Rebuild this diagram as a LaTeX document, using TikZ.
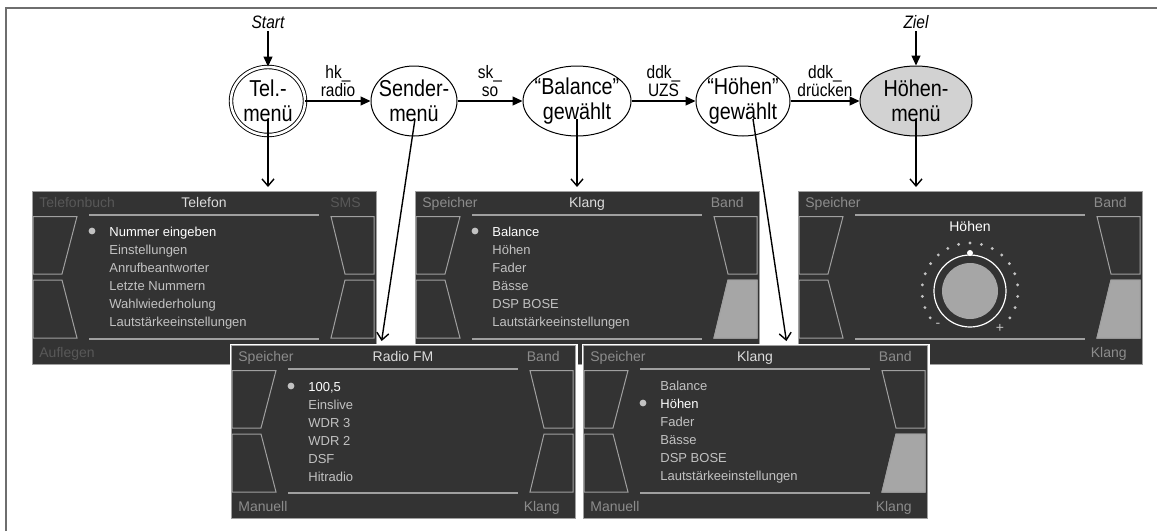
\documentclass[tikz,border=0pt]{standalone}
\usepackage{fontspec}
\setmainfont{Liberation Sans}
\newfontfamily\narrowsf[FakeStretch=0.86]{Liberation Sans}
\usetikzlibrary{shapes.geometric,arrows.meta,calc}

\definecolor{scrbg}{HTML}{333333}
\definecolor{scrline}{HTML}{A0A0A0}
\definecolor{keyon}{HTML}{A6A6A6}
\definecolor{titlegray}{HTML}{DCDCDC}
\definecolor{sidegray}{HTML}{8C8C8C}
\definecolor{dimgray}{HTML}{585858}
\definecolor{itemgray}{HTML}{C2C2C2}
\definecolor{goalfill}{HTML}{D2D2D2}
\definecolor{framegray}{HTML}{6E6E6E}

% one display screen: name, x, y (pixels), content
\newcommand\dispframe[4]{%
  \begin{scope}[shift={(#2,#3)}]
    \node[screen] (#1) at (0,0) {};
    \draw[softkey] (1,25.5) -- (45,25.5) -- (30,83) -- (1,83) -- cycle;
    \draw[softkey] (1,89) -- (30,89) -- (45,147) -- (1,147) -- cycle;
    \draw[softkey] (299,25.5) -- (342,25.5) -- (342,83) -- (313,83) -- cycle;
    \draw[softkey] (313,89) -- (342,89) -- (342,147) -- (299,147) -- cycle;
    \draw[sepline] (57,24) -- (287,24);
    \draw[sepline] (57,148) -- (287,148);
    #4
  \end{scope}}

\begin{document}
\begin{tikzpicture}[x=0.5pt, y=-0.5pt,
  state/.style={ellipse, draw, line width=0.5pt, inner sep=0pt, minimum height=35pt},
  stlabel/.style={align=center, font=\narrowsf\fontsize{11.5}{12.5}\selectfont, inner sep=0pt},
  trans/.style={-{Triangle[length=5pt,width=4.5pt]}, line width=0.6pt},
  todisp/.style={-{Straight Barb[length=3.5pt,width=6pt]}, line width=0.7pt, shorten >=2pt},
  edgelbl/.style={align=center, font=\narrowsf\fontsize{9}{9}\selectfont, inner sep=2pt},
  ext/.style={font=\narrowsf\fontsize{9}{9}\selectfont\itshape, inner sep=1pt},
  screen/.style={rectangle, anchor=north west, fill=scrbg, draw=scrline, line width=0.5pt,
    minimum width=172pt, minimum height=86.5pt, inner sep=0pt,
    preaction={draw=white, line width=2pt}},
  softkey/.style={draw=scrline, line width=0.5pt},
  sepline/.style={draw=scrline, line width=0.6pt},
  scrtitle/.style={anchor=base, inner sep=0pt, font=\fontsize{7}{8}\selectfont, text=titlegray},
  scrside/.style={inner sep=0pt, font=\fontsize{7}{8}\selectfont, text=sidegray},
  scrdim/.style={inner sep=0pt, font=\fontsize{7}{8}\selectfont, text=dimgray},
  scritem/.style={anchor=base west, inner sep=0pt, font=\fontsize{6.5}{8}\selectfont, text=itemgray},
  bullet/.style={fill=itemgray},
]
\useasboundingbox (0,0) rectangle (1157,531);
\draw[framegray, line width=0.75pt] (6,531) -- (6,8) -- (1157,8);

% === displays, upper row ===
\dispframe{s-tel}{32}{191}{%
  \node[scrdim, anchor=base west] (tel-l1) at (7,16) {Telefonbuch};
  \node[scrtitle] (tel-l2) at (172,16) {Telefon};
  \node[scrdim, anchor=base east] (tel-l3) at (329,16) {SMS};
  \node[scrdim, anchor=base west] (tel-l4) at (7,166) {Auflegen};
  \fill[bullet] (60,40) circle (1.7pt);
  \node[scritem, text=white] (tel-i0) at (77,45) {Nummer eingeben};
  \foreach \txt [count=\i] in {Einstellungen,Anrufbeantworter,Letzte Nummern,Wahlwiederholung,Lautstärkeeinstellungen}
    \node[scritem] (tel-i\i) at (77,{45+18*\i}) {\txt};
}

\dispframe{s-klang1}{415}{191}{%
  \filldraw[softkey, fill=keyon] (313,89) -- (342,89) -- (342,147) -- (299,147) -- cycle;
  \node[scrside, anchor=base west] (k1-l1) at (7,16) {Speicher};
  \node[scrtitle] (k1-l2) at (172,16) {Klang};
  \node[scrside, anchor=base east] (k1-l3) at (329,16) {Band};
  \fill[bullet] (60,40) circle (1.7pt);
  \node[scritem, text=white] (k1-i0) at (77,45) {Balance};
  \foreach \txt [count=\i] in {Höhen,Fader,Bässe,DSP BOSE,Lautstärkeeinstellungen}
    \node[scritem] (k1-i\i) at (77,{45+18*\i}) {\txt};
}

\dispframe{s-hoehen}{798}{191}{%
  \filldraw[softkey, fill=keyon] (313,89) -- (342,89) -- (342,147) -- (299,147) -- cycle;
  \node[scrside, anchor=base west] (hm-l1) at (7,16) {Speicher};
  \node[scrside, anchor=base east] (hm-l3) at (329,16) {Band};
  \node[scrside, anchor=base east] (hm-l4) at (329,166) {Klang};
  \node[scrtitle, text=white] (hm-t) at (172,40) {Höhen};
  \foreach \a in {0,...,18}
    \fill[itemgray] ({172+48*cos(214-13.78*\a)},{100-48*sin(214-13.78*\a)}) circle (0.8pt);
  \draw[white, line width=0.6pt] (172,100) circle (18pt);
  \fill[keyon] (172,100) circle (14pt);
  \fill[white] (172,62) circle (1.5pt);
  \node[scrside, text=itemgray] (hm-min) at (140,134) {-};
  \node[scrside, text=itemgray] (hm-plus) at (202,137) {+};
}

% === displays, lower row ===
\dispframe{s-radio}{231}{345}{%
  \node[scrside, anchor=base west] (r-l1) at (7,16) {Speicher};
  \node[scrtitle] (r-l2) at (172,16) {Radio FM};
  \node[scrside, anchor=base east] (r-l3) at (329,16) {Band};
  \node[scrside, anchor=base west] (r-l4) at (7,166) {Manuell};
  \node[scrside, anchor=base east] (r-l5) at (329,166) {Klang};
  \fill[bullet] (60,41) circle (1.7pt);
  \node[scritem, text=white] (r-i0) at (77,46) {100,5};
  \foreach \txt [count=\i] in {Einslive,WDR 3,WDR 2,DSF,Hitradio}
    \node[scritem] (r-i\i) at (77,{46+18*\i}) {\txt};
}

\dispframe{s-klang2}{583}{345}{%
  \filldraw[softkey, fill=keyon] (313,89) -- (342,89) -- (342,147) -- (299,147) -- cycle;
  \node[scrside, anchor=base west] (k2-l1) at (7,16) {Speicher};
  \node[scrtitle] (k2-l2) at (172,16) {Klang};
  \node[scrside, anchor=base east] (k2-l3) at (329,16) {Band};
  \node[scrside, anchor=base west] (k2-l4) at (7,166) {Manuell};
  \node[scrside, anchor=base east] (k2-l5) at (329,166) {Klang};
  \fill[bullet] (60,58) circle (1.7pt);
  \node[scritem] (k2-i0) at (77,45) {Balance};
  \node[scritem, text=white] (k2-i1) at (77,63) {Höhen};
  \foreach \txt [count=\i from 2] in {Fader,Bässe,DSP BOSE,Lautstärkeeinstellungen}
    \node[scritem] (k2-i\i) at (77,{45+18*\i}) {\txt};
}

% === states ===
\node[state, double, double distance=1.3pt, line width=0.45pt, minimum width=37pt, minimum height=34pt] (tel) at (268,101) {};
\node[stlabel] (tel-t) at (tel) {Tel.-\\menü};
\node[state, minimum width=43pt] (sender) at (414,101) {};
\node[stlabel] (sender-t) at (sender) {Sender-\\menü};
\node[state, minimum width=54pt] (balance) at (577,101) {};
\node[stlabel] (balance-t) at (balance) {“Balance”\\gewählt};
\node[state, minimum width=47pt] (hoehen) at (743,101) {};
\node[stlabel] (hoehen-t) at (hoehen) {“Höhen”\\gewählt};
\node[state, fill=goalfill, minimum width=56pt] (hmenu) at (916,101) {};
\node[stlabel] (hmenu-t) at (hmenu) {Höhen-\\menü};

\node[ext] (start) at (268,22) {Start};
\node[ext] (ziel) at (916,22) {Ziel};

% === transitions ===
\draw[trans] (start) -- (tel);
\draw[trans] (ziel) -- (hmenu);
\draw[trans] (tel) -- (sender) node[edgelbl, midway, above] (e1) {hk\_\\radio};
\draw[trans] (sender) -- (balance) node[edgelbl, midway, above] (e2) {sk\_\\so};
\draw[trans] (balance) -- (hoehen) node[edgelbl, midway, above] (e3) {ddk\_\\UZS};
\draw[trans] (hoehen) -- (hmenu) node[edgelbl, midway, above] (e4) {ddk\_\\drücken};

% === state -> display ===
\draw[todisp] ([yshift=-9pt]tel.center) -- (tel.center |- s-tel.north);
\draw[todisp] ([xshift=0.5pt,yshift=-9pt]sender.center) -- ([xshift=75pt]s-radio.north west);
\draw[todisp] ([yshift=-9pt]balance.center) -- (balance.center |- s-klang1.north);
\draw[todisp] ([xshift=5pt,yshift=-9pt]hoehen.center) -- ([xshift=102pt]s-klang2.north west);
\draw[todisp] ([yshift=-9pt]hmenu.center) -- (hmenu.center |- s-hoehen.north);

\end{tikzpicture}
\end{document}
